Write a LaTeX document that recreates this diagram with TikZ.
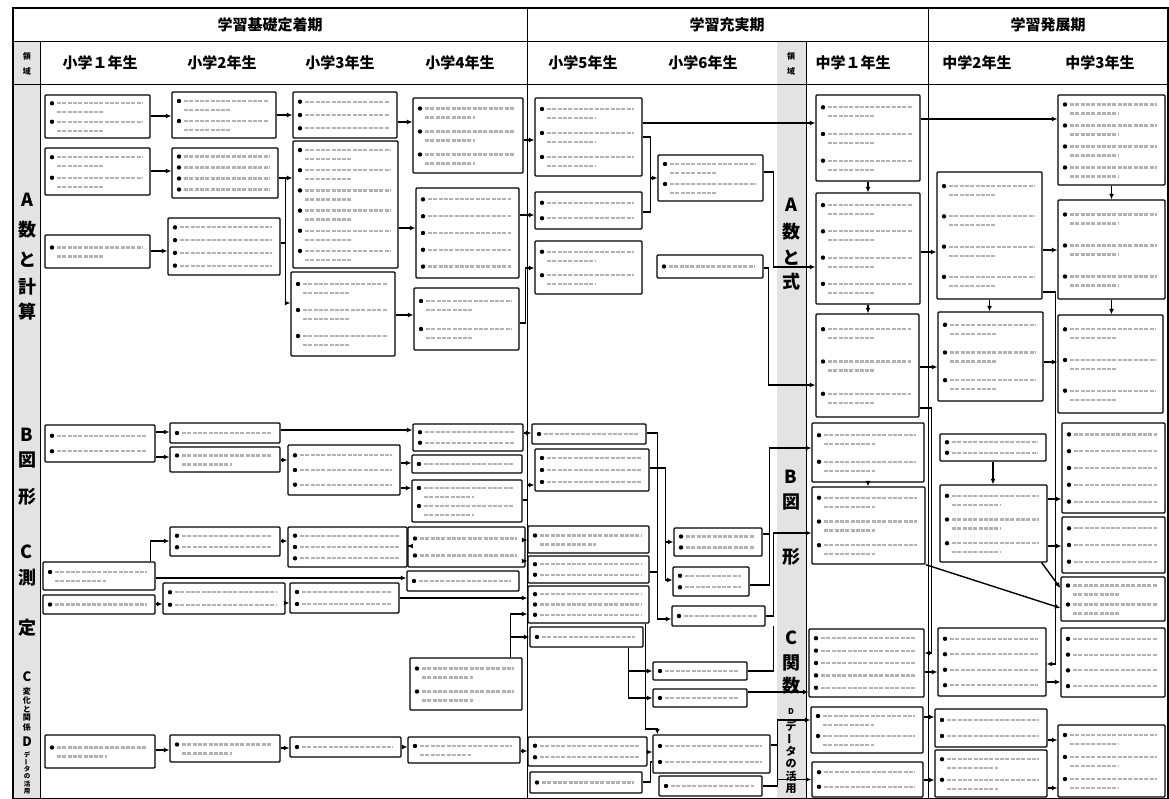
\documentclass[tikz,border=0pt]{standalone}
\usepackage{fontspec}
\newfontfamily\jp{Noto Sans CJK JP}
\usetikzlibrary{arrows.meta,calc}
\newcommand\bx[6]{%
  \node[bxs, minimum width={(#4-#2)*1pt}, minimum height={(#5-#3)*1pt}] (#1) at ({(#2+#4)/2},{(#3+#5)/2}) {};
  \pgfmathsetmacro\bsp{(#5-#3-6)/#6}%
  \pgfmathtruncatemacro\btwo{\bsp>17?1:0}%
  \foreach \i in {1,...,#6}{%
    \pgfmathsetmacro\yy{#3+3+(\i-0.5)*\bsp}%
    \ifnum\btwo=1
      \fill (#2+7,\yy-4) circle (2.2pt);
      \draw[txt] (#2+12,\yy-4) -- (#4-8,\yy-4);
      \draw[txt] (#2+12,\yy+5) -- ({#2+12+0.55*(#4-#2-20)},\yy+5);
    \else
      \fill (#2+7,\yy) circle (2.2pt);
      \draw[txt] (#2+12,\yy) -- (#4-8,\yy);
    \fi
  }%
}
\begin{document}
\begin{tikzpicture}[x=1pt,y=-1pt,
 bxs/.style={draw, line width=1.3pt, fill=white, rounded corners=1pt, inner sep=0pt},
 txt/.style={gray!60, line width=2.2pt, dash pattern=on 4pt off 1.3pt},
 arr/.style={line width=1.4pt, -{Latex[length=5.5pt,width=5pt]}},
 ln/.style={line width=1.4pt},
 hd/.style={font=\jp\bfseries\fontsize{15}{15}\selectfont, inner sep=0pt},
 lab/.style={font=\jp\bfseries\fontsize{18}{18}\selectfont, inner sep=0pt},
 mlab/.style={font=\jp\bfseries\fontsize{11}{11}\selectfont, inner sep=0pt},
 clab/.style={font=\jp\bfseries\fontsize{13}{13}\selectfont, inner sep=0pt},
 slab/.style={font=\jp\bfseries\fontsize{8}{8}\selectfont, inner sep=0pt},
 tlab/.style={font=\jp\bfseries\fontsize{6.5}{6.5}\selectfont, inner sep=0pt},
]
\useasboundingbox (0,0) rectangle (1169,799);
% shaded strips
\fill[gray!22] (13,42) rectangle (40,799);
\fill[gray!22] (777,42) rectangle (806,799);
% frame
\draw[line width=1.2pt] (13,8) rectangle (1168,799);
\draw[line width=1pt] (13,42) -- (1168,42);
\draw[line width=1pt] (13,85) -- (1168,85);
\draw[line width=1pt] (527,8) -- (527,799);
\draw[line width=1pt] (928,8) -- (928,799);
\draw[line width=1pt] (40,42) -- (40,799);
\draw[line width=1pt] (806,42) -- (806,799);
% headers
\node[hd] (p1) at (270,25) {学習基礎定着期};
\node[hd] (p2) at (727,25) {学習充実期};
\node[hd] (p3) at (1048,25) {学習発展期};
\node[hd] (g1) at (100,63) {小学１年生};
\node[hd] (g2) at (222,63) {小学2年生};
\node[hd] (g3) at (340,63) {小学3年生};
\node[hd] (g4) at (460,63) {小学4年生};
\node[hd] (g5) at (583,63) {小学5年生};
\node[hd] (g6) at (703,63) {小学6年生};
\node[hd] (g7) at (853,63) {中学１年生};
\node[hd] (g8) at (977,63) {中学2年生};
\node[hd] (g9) at (1100,63) {中学3年生};
\node[slab] (r1) at (27,56) {領};
\node[slab] (r2) at (27,71) {域};
\node[slab] (r3) at (791,56) {領};
\node[slab] (r4) at (791,71) {域};
% left strip labels
\node[lab] (la1) at (27,200) {A};
\node[lab] (la2) at (27,230) {数};
\node[lab] (la3) at (27,260) {と};
\node[lab] (la4) at (27,287) {計};
\node[lab] (la5) at (27,312) {算};
\node[lab] (lb1) at (27,435) {B};
\node[lab] (lb2) at (27,460) {図};
\node[lab] (lb3) at (27,497) {形};
\node[lab] (lc1) at (27,552) {C};
\node[lab] (lc2) at (27,578) {測};
\node[lab] (lc3) at (27,628) {定};
\node[clab] (ld1) at (27,677) {C};
\node[slab] (ld2) at (27,691) {変};
\node[slab] (ld3) at (27,700) {化};
\node[slab] (ld4) at (27,709) {と};
\node[slab] (ld5) at (27,718) {関};
\node[slab] (ld6) at (27,727) {係};
\node[clab] (le1) at (27,742) {D};
\node[tlab] (le2) at (27,754.5) {デ};
\node[tlab, rotate=90] (le3) at (27,761.8) {ー};
\node[tlab] (le4) at (27,769.1) {タ};
\node[tlab] (le5) at (27,776.4) {の};
\node[tlab] (le6) at (27,783.7) {活};
\node[tlab] (le7) at (27,791) {用};
% middle strip labels
\node[lab] (ma1) at (791,205) {A};
\node[lab] (ma2) at (791,232) {数};
\node[lab] (ma3) at (791,258) {と};
\node[lab] (ma4) at (791,282) {式};
\node[lab] (mb1) at (791,477) {B};
\node[lab] (mb2) at (791,502) {図};
\node[lab] (mb3) at (791,557) {形};
\node[lab] (mc1) at (791,638) {C};
\node[lab] (mc2) at (791,663) {関};
\node[lab] (mc3) at (791,686) {数};
\node[slab] (md1) at (791,712) {D};
\node[mlab] (md2) at (791,726) {デ};
\node[mlab, rotate=90] (md3) at (791,738.5) {ー};
\node[mlab] (md4) at (791,751) {タ};
\node[mlab] (md5) at (791,763.5) {の};
\node[mlab] (md6) at (791,776) {活};
\node[mlab] (md7) at (791,788.5) {用};
% ---------- boxes A
\bx{A1a}{45}{95}{150}{138}{2}
\bx{A1b}{45}{148}{150}{195}{2}
\bx{A1c}{45}{235}{150}{268}{1}
\bx{A2a}{172}{92}{276}{138}{2}
\bx{A2b}{172}{148}{278}{198}{4}
\bx{A2c}{168}{218}{280}{275}{4}
\bx{A3a}{293}{92}{397}{138}{3}
\bx{A3b}{293}{141}{398}{268}{6}
\bx{A3c}{291}{272}{395}{356}{3}
\bx{A4a}{413}{98}{523}{173}{3}
\bx{A4b}{416}{188}{519}{278}{5}
\bx{A4c}{414}{288}{519}{350}{2}
\bx{A5a}{535}{98}{642}{176}{3}
\bx{A5b}{535}{192}{642}{229}{2}
\bx{A5c}{535}{241}{642}{294}{2}
\bx{A6a}{658}{155}{763}{201}{2}
\bx{A6b}{657}{255}{763}{278}{1}
\bx{M1a}{816}{95}{920}{181}{3}
\bx{M1b}{816}{193}{920}{304}{4}
\bx{M1c}{816}{314}{919}{417}{3}
\bx{M2a}{937}{172}{1042}{299}{4}
\bx{M2b}{938}{312}{1043}{401}{3}
\bx{M3a}{1058}{95}{1165}{185}{4}
\bx{M3b}{1058}{200}{1165}{299}{3}
\bx{M3c}{1058}{315}{1163}{413}{3}
% ---------- boxes B
\bx{B1}{45}{425}{155}{462}{2}
\bx{B2a}{170}{423}{280}{443}{1}
\bx{B2b}{170}{447}{280}{472}{1}
\bx{B3}{288}{445}{400}{495}{3}
\bx{B4a}{413}{424}{523}{451}{2}
\bx{B4b}{412}{455}{522}{473}{1}
\bx{B4c}{412}{480}{522}{522}{2}
\bx{B5a}{532}{424}{646}{444}{1}
\bx{B5b}{535}{449}{649}{491}{3}
\bx{M1d}{812}{423}{924}{482}{2}
\bx{M1e}{812}{487}{925}{564}{3}
\bx{M2c}{940}{434}{1046}{461}{2}
\bx{M2d}{940}{485}{1047}{562}{3}
\bx{M3d}{1062}{423}{1165}{513}{5}
\bx{M3e}{1062}{517}{1165}{573}{3}
\bx{M3f}{1061}{577}{1165}{621}{2}
% ---------- boxes C
\bx{C1a}{43}{562}{155}{590}{1}
\bx{C1b}{43}{595}{155}{614}{1}
\bx{C2a}{170}{527}{280}{556}{2}
\bx{C2b}{163}{583}{285}{614}{2}
\bx{C3a}{288}{527}{407}{567}{3}
\bx{C3b}{290}{583}{399}{613}{2}
\bx{C4a}{408}{527}{525}{567}{2}
\bx{C4b}{407}{571}{519}{591}{1}
\bx{C4c}{410}{658}{522}{710}{2}
\bx{C5a}{528}{526}{649}{553}{1}
\bx{C5b}{528}{556}{649}{583}{2}
\bx{C5c}{528}{586}{649}{623}{3}
\bx{C5d}{530}{627}{643}{647}{1}
\bx{B6a}{674}{528}{762}{556}{2}
\bx{B6b}{673}{567}{749}{596}{2}
\bx{B6c}{672}{606}{765}{626}{1}
\bx{C6a}{653}{662}{747}{680}{1}
\bx{C6b}{653}{689}{747}{707}{1}
\bx{M1f}{809}{629}{924}{697}{5}
\bx{M2e}{938}{628}{1046}{696}{4}
\bx{M3g}{1061}{628}{1165}{697}{4}
% ---------- boxes D
\bx{D1}{45}{735}{155}{768}{1}
\bx{D2}{170}{735}{280}{762}{1}
\bx{D3}{290}{737}{401}{757}{1}
\bx{D4}{408}{737}{520}{763}{1}
\bx{D5a}{528}{737}{647}{766}{2}
\bx{D5b}{530}{772}{642}{793}{1}
\bx{D6a}{653}{735}{770}{773}{2}
\bx{D6b}{659}{776}{762}{796}{1}
\bx{M1g}{811}{707}{923}{753}{2}
\bx{M1h}{812}{762}{923}{797}{2}
\bx{M2f}{935}{709}{1047}{747}{2}
\bx{M2g}{935}{750}{1047}{797}{2}
\bx{M3h}{1058}{725}{1165}{797}{3}
% ---------- connectors A
\draw[arr] (A1a.east |- 0,116) -- (A2a.west |- 0,116);
\draw[arr] (A1b.east |- 0,171) -- (A2b.west |- 0,171);
\draw[arr] (A1c.east |- 0,251) -- (A2c.west |- 0,251);
\draw[arr] (A2a.east |- 0,115) -- (A3a.west |- 0,115);
\draw[arr] (A2b.east |- 0,178) -- (A3b.west |- 0,178);
\draw[arr] (A2b.east |- 0,178) -- ++(7,0) |- (A3c.west |- 0,303);
\draw[ln] (A2c.east |- 0,243) -- ++(5,0);
\draw[arr] (A3a.east |- 0,122) -- (A4a.west |- 0,122);
\draw[arr] (A3b.east |- 0,228) -- (A4b.west |- 0,228);
\draw[arr] (A3c.east |- 0,315) -- (A4c.west |- 0,315);
\draw[arr] (A4a.east |- 0,140) -- (A5a.west |- 0,140);
\draw[arr] (A4b.east |- 0,215) -- (A5b.west |- 0,215);
\draw[arr] (A4c.east |- 0,323) -- ++(6,0) |- (A5c.west |- 0,268);
\draw[arr] (A5a.east |- 0,123) -- (M1a.west |- 0,123);
\draw[ln] (A5a.east |- 0,137) -- ++(8,0) coordinate (j1) |- (A5b.east |- 0,212);
\draw[arr] (j1 |- A6a.west) -- (A6a.west);
\draw[arr] (A6a.east |- 0,172) -- ++(10,0) |- (M1b.west |- 0,267);
\draw[arr] (A6b.east |- 0,268) -- ++(5,0) |- (M1c.west |- 0,385);
\draw[arr] (M1a.south) -- (M1a.south |- M1b.north);
\draw[arr] (M1b.south) -- (M1b.south |- M1c.north);
\draw[arr] (M1b.east |- 0,252) -- (M2a.west |- 0,252);
\draw[arr] (M1c.east |- 0,367) -- (M2b.west |- 0,367);
\draw[arr] (M2a.south) -- (M2a.south |- M2b.north);
\draw[arr] (M1a.east |- 0,119) -- (M3a.west |- 0,119);
\draw[arr] (M2a.east |- 0,250) -- (M3b.west |- 0,250);
\draw[arr] (M3a.south) -- (M3a.south |- M3b.north);
\draw[arr] (M3b.south) -- (M3b.south |- M3c.north);
\draw[arr] (M2b.east |- 0,362) -- (M3c.west |- 0,362);
\draw[arr] (M2a.east |- 0,292) -- ++(13,0) |- (M2e.east |- 0,664);
% ---------- connectors B
\draw[arr] (B1.east |- 0,432) -- (B2a.west |- 0,432);
\draw[arr] (B1.east |- 0,457) -- (B2b.west |- 0,457);
\draw[arr] (B2a.east |- 0,430) -- (B4a.west |- 0,430);
\draw[arr] (B2b.east |- 0,460) -- (B3.west |- 0,460);
\draw[arr] (B3.east |- 0,463) -- (B4b.west |- 0,463);
\draw[arr] (B3.east |- 0,488) -- (B4c.west |- 0,488);
\draw[arr] (B4a.east |- 0,433) -- (B5a.west |- 0,433);
\draw[arr] (B4c.east |- 0,500) -- ++(5,0) |- (B5b.west |- 0,485);
\draw[arr] (B5a.east |- 0,433) -- ++(11,0) |- (B6c.west |- 0,619);
\draw[ln] (C5b.east |- 0,572) -- ++(8,0);
\draw[arr] (B5b.east |- 0,468) -- ++(16,0) coordinate (j2) |- (B6b.west |- 0,580);
\draw[arr] (j2 |- B6a.west) -- (B6a.west);
\draw[arr] (B6a.east |- 0,534) -- ++(7,0) coordinate (j3) |- (M1d.west |- 0,448);
\draw[ln] (B6b.east |- 0,585) -| (j3);
\draw[arr] (B6c.east |- 0,616) -- ++(8,0) |- (M1e.west |- 0,533);
\draw[ln] (C6a.east |- 0,671) -| ([xshift=8pt]B6c.east |- 0,626);
\draw[arr] (M1d.south) -- (M1d.south |- M1e.north);
\draw[arr] (M1e.south east) -- (M3f.west |- 0,608);
\draw[arr] (M2c.south) -- (M2c.south |- M2d.north);
\draw[arr] (M2d.east |- 0,499) -- (M3d.west |- 0,499);
\draw[arr] (M2d.east |- 0,546) -- (M3e.west |- 0,546);
\draw[arr] ([xshift=-6pt]M2d.south east) -- (M3f.west |- 0,588);
% ---------- connectors C
\draw[arr] ([xshift=-5pt]C1a.north east) |- (C2a.west |- 0,541);
\draw[arr] (C1a.east |- 0,578) -- (C4b.west |- 0,578);
\draw[arr] (C1b.east |- 0,604) -- (C2b.west |- 0,604);
\draw[arr] (C2a.east |- 0,541) -- (C3a.west |- 0,541);
\draw[arr] (C2b.east |- 0,603) -- (C3b.west |- 0,603);
\draw[arr] (C3a.east |- 0,546) -- (C4a.west |- 0,546);
\draw[arr] (C3b.east |- 0,598) -- (C5c.west |- 0,598);
\draw[arr] (C4a.east |- 0,540) -- (C5a.west |- 0,540);
\draw[arr] (C4a.east |- 0,561) -- (C5b.west |- 0,561);
\draw[arr] ([xshift=-12pt]C4c.north east) |- (C5c.west |- 0,614);
\draw[arr] ([xshift=-12pt]C4c.north east) |- (C5d.west |- 0,637);
\draw[arr] ([xshift=-4pt]C5c.south east) -- ([xshift=-4pt]C5c.south east |- 0,729) -| ([xshift=5pt]D6a.north west);
\draw[arr] ([xshift=-15pt]C5d.south east) |- (C6a.west);
\draw[arr] ([xshift=-15pt]C5d.south east) |- (C6b.west);
\draw[arr] (C6b.east |- 0,692) -- (M1f.west |- 0,692);
\draw[arr] (M1f.east |- 0,672) -- (M2e.west |- 0,672);
\draw[arr] (M2e.east |- 0,682) -- (M3g.west |- 0,682);
\draw[arr] (M1c.east |- 0,408) -- ++(12,0) |- (M1f.east |- 0,653);
% ---------- connectors D
\draw[arr] (D1.east |- 0,750) -- (D2.west |- 0,750);
\draw[arr] (D2.east |- 0,748) -- (D3.west |- 0,748);
\draw[arr] (D3.east |- 0,747) -- (D4.west |- 0,747);
\draw[arr] (D4.east |- 0,751) -- (D5a.west |- 0,751);
\draw[arr] (D5a.east |- 0,752) -- (D6a.west |- 0,752);
\draw[ln] (D5b.east |- 0,782) -- ++(8,0) |- (D6a.west |- 0,762);
\draw[arr] (D6a.east |- 0,745) -- ++(7,0) coordinate (j4) |- (M1g.west |- 0,720);
\draw[ln] (D6b.east |- 0,786) -| (j4);
\draw[arr] (j4 |- M1h.west) -- (M1h.west);
\draw[arr] (M1g.east |- 0,717) -- (M2f.west |- 0,717);
\draw[arr] (M1h.east |- 0,780) -- (M2g.west |- 0,780);
\draw[arr] (M2f.east |- 0,740) -- (M3h.west |- 0,740);
\draw[arr] (M2g.east |- 0,788) -- (M3h.west |- 0,788);
\end{tikzpicture}
\end{document}
